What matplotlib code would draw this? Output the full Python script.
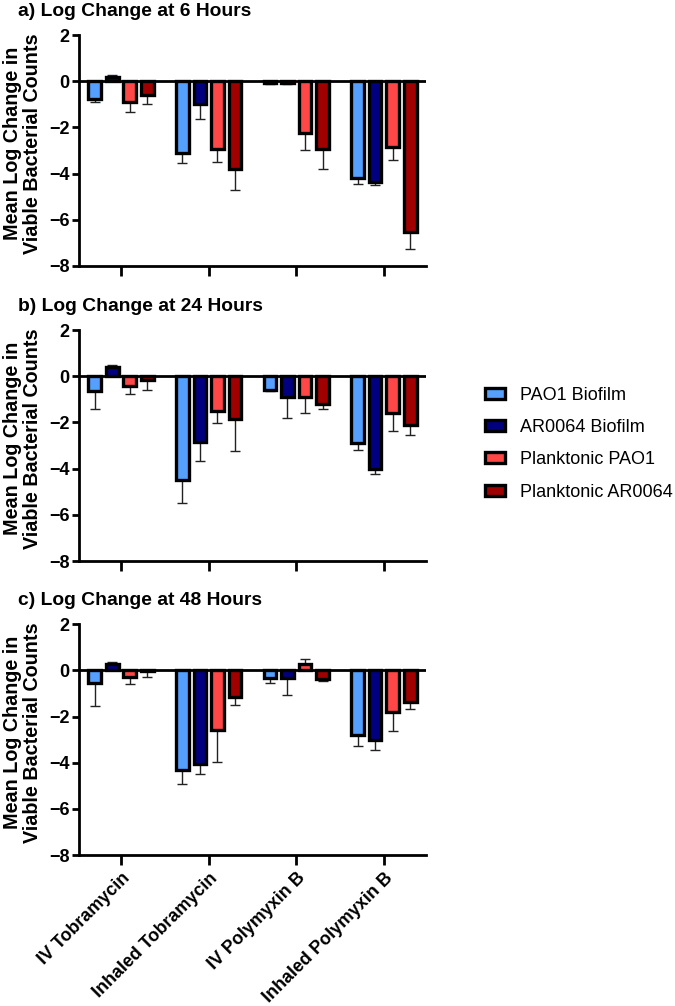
import numpy as np
import matplotlib
matplotlib.use("Agg")
import matplotlib.pyplot as plt
from matplotlib.patches import Patch

plt.rcParams['font.family'] = ['Liberation Sans', 'DejaVu Sans']

################################################################################################
# Data.

TREATMENTS = ["IV Tobramycin", "Inhaled Tobramycin", "IV Polymyxin B", "Inhaled Polymyxin B"]
SERIES = ["PAO1 Biofilm", "AR0064 Biofilm", "Planktonic PAO1", "Planktonic AR0064"]
COLORS = ["#55A0FF", "#000080", "#FF4747", "#A00000"]

TITLES = ["a) Log Change at 6 Hours", "b) Log Change at 24 Hours", "c) Log Change at 48 Hours"]

# rows = series, columns = treatments
MEAN_6H = [
    [-0.75, -3.10, -0.08, -4.20],
    [0.20, -1.00, -0.07, -4.38],
    [-0.92, -2.95, -2.25, -2.85],
    [-0.60, -3.80, -2.95, -6.55],
]
ERR_6H = [
    [0.17, 0.45, 0.05, 0.25],
    [0.08, 0.65, 0.03, 0.13],
    [0.40, 0.55, 0.72, 0.58],
    [0.38, 0.90, 0.85, 0.70],
]

MEAN_24H = [
    [-0.65, -4.50, -0.60, -2.90],
    [0.40, -2.85, -0.90, -4.00],
    [-0.40, -1.52, -0.88, -1.60],
    [-0.18, -1.85, -1.20, -2.10],
]
ERR_24H = [
    [0.78, 1.00, 0.05, 0.28],
    [0.10, 0.80, 0.92, 0.25],
    [0.35, 0.50, 0.70, 0.78],
    [0.42, 1.40, 0.22, 0.45],
]

MEAN_48H = [
    [-0.55, -4.30, -0.35, -2.80],
    [0.28, -4.05, -0.35, -3.00],
    [-0.28, -2.58, 0.28, -1.80],
    [-0.03, -1.15, -0.38, -1.38],
]
ERR_48H = [
    [1.00, 0.62, 0.22, 0.48],
    [0.08, 0.42, 0.70, 0.44],
    [0.33, 1.40, 0.20, 0.82],
    [0.25, 0.33, 0.10, 0.30],
]

################################################################################################

panels = [(MEAN_6H, ERR_6H), (MEAN_24H, ERR_24H), (MEAN_48H, ERR_48H)]
bottoms = [0.7356, 0.4423, 0.150]

fig = plt.figure(figsize=(6.75, 10.06), dpi=100)
x = np.arange(len(TREATMENTS))
offsets = [-0.3, -0.1, 0.1, 0.3]

for p, (means, errs) in enumerate(panels):
    ax = fig.add_axes([0.117, bottoms[p], 0.514, 0.2296])
    for s in range(len(SERIES)):
        m = np.array(means[s])
        e = np.array(errs[s])
        lower = np.where(m < 0, e, 0)
        upper = np.where(m >= 0, e, 0)
        ax.bar(x + offsets[s], m, width=0.145, color=COLORS[s],
               edgecolor="black", linewidth=2.4, zorder=2)
        ax.errorbar(x + offsets[s], m, yerr=[lower, upper], fmt="none",
                    ecolor="#222222", elinewidth=1, capsize=3.5, capthick=1, zorder=1)
    ax.axhline(0, color="black", lw=2, zorder=3)
    ax.set_xlim(-0.48, 3.48)
    ax.set_ylim(-8, 2)
    ax.set_yticks([-8, -6, -4, -2, 0, 2])
    ax.set_xticks(x)
    for side in ["top", "right"]:
        ax.spines[side].set_visible(False)
    for side in ["left", "bottom"]:
        ax.spines[side].set_linewidth(2)
    ax.tick_params(axis="y", width=2, length=5, labelsize=13, pad=2)
    ax.tick_params(axis="x", width=2, length=7)
    for lbl in ax.get_yticklabels():
        lbl.set_fontweight("bold")
    if p == 2:
        ax.set_xticklabels(TREATMENTS, rotation=45, ha="right", rotation_mode="anchor",
                           fontsize=12.9, fontweight="bold")
    else:
        ax.set_xticklabels([])
    ax.set_ylabel("Mean Log Change in\nViable Bacterial Counts", fontsize=14.2,
                  fontweight="bold", linespacing=1.05)
    ax.yaxis.set_label_coords(-0.107, 0.53)
    fig.text(0.027, bottoms[p] + 0.2296 + 0.023, TITLES[p], fontsize=13.9,
             fontweight="bold", va="center", ha="left")

handles = [Patch(facecolor=c, edgecolor="black", linewidth=2.4) for c in COLORS]
fig.legend(handles, SERIES, loc="center left", bbox_to_anchor=(0.695, 0.559),
           frameon=False, fontsize=13.0, handlelength=1.1, handleheight=0.55,
           labelspacing=0.85, handletextpad=0.8)

fig.savefig("out.png", dpi=100)
